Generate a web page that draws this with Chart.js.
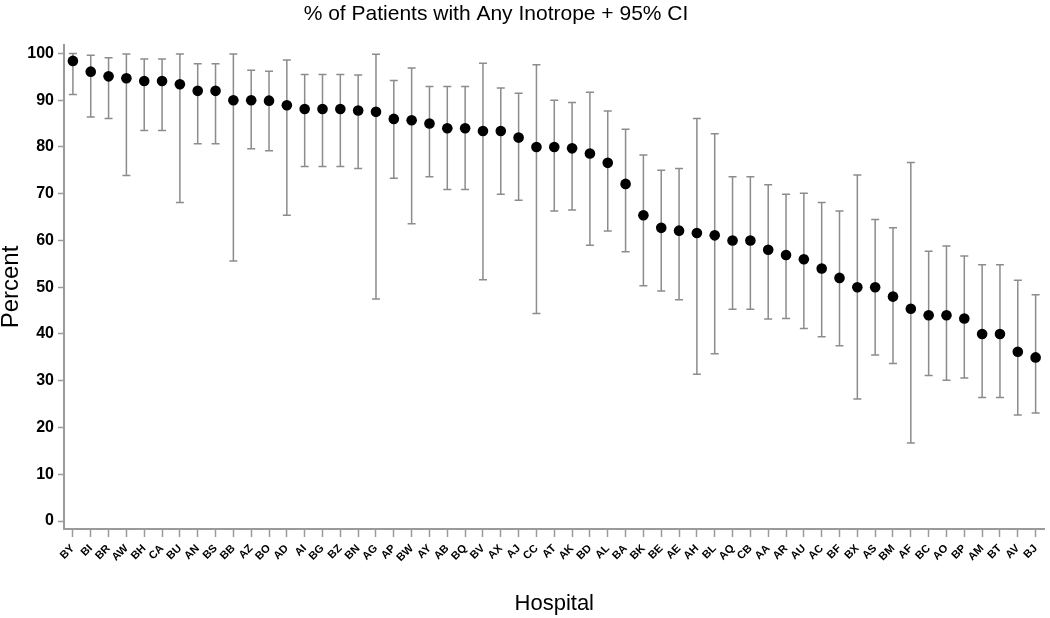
<!DOCTYPE html>
<html>
<head>
<meta charset="utf-8">
<title>% of Patients with Any Inotrope + 95% CI</title>
<script src="https://cdn.jsdelivr.net/npm/chart.js@4"></script>
<style>
  html, body { margin: 0; padding: 0; background: #ffffff; }
  #wrap { width: 1050px; height: 618px; }
</style>
</head>
<body>
<div id="wrap"><canvas id="ciChart" width="1050" height="618"></canvas></div>
<script>
// Hospitals, sorted by percent (as in the figure)
const hospitals = ["BY", "BI", "BR", "AW", "BH", "CA", "BU", "AN", "BS", "BB", "AZ", "BO", "AD", "AI",
  "BG", "BZ", "BN", "AG", "AP", "BW", "AY", "AB", "BQ", "BV", "AX", "AJ", "CC", "AT", "AK", "BD",
  "AL", "BA", "BK", "BE", "AE", "AH", "BL", "AQ", "CB", "AA", "AR", "AU", "AC", "BF", "BX", "AS",
  "BM", "AF", "BC", "AO", "BP", "AM", "BT", "AV", "BJ"];

// Point estimate (%)
const percent = [98.4, 96.1, 95.1, 94.7, 94.1, 94.1, 93.4, 92.0, 92.0, 90.0, 90.0, 89.9, 88.9, 88.1,
  88.1, 88.1, 87.8, 87.5, 86.0, 85.7, 85.0, 84.0, 84.0, 83.4, 83.4, 82.0, 80.0, 80.0, 79.7, 78.6,
  76.6, 72.1, 65.4, 62.7, 62.1, 61.6, 61.1, 60.0, 60.0, 58.0, 56.9, 56.0, 54.0, 52.0, 50.0, 50.0,
  48.0, 45.4, 44.0, 44.0, 43.3, 40.0, 40.0, 36.2, 35.0];

// 95% CI lower bound
const lower = [91.2, 86.4, 86.1, 73.9, 83.5, 83.5, 68.1, 80.7, 80.7, 55.6, 79.6, 79.2, 65.4, 75.8,
  75.8, 75.8, 75.4, 47.5, 73.3, 63.6, 73.6, 70.9, 70.9, 51.6, 69.9, 68.6, 44.4, 66.3, 66.5, 59.0,
  62.0, 57.6, 50.3, 49.2, 47.3, 31.4, 35.8, 45.3, 45.3, 43.2, 43.3, 41.2, 39.4, 37.5, 26.1, 35.5,
  33.7, 16.7, 31.1, 30.1, 30.6, 26.4, 26.4, 22.7, 23.1];

// 95% CI upper bound
const upper = [100, 99.6, 99.1, 99.9, 98.8, 98.8, 99.9, 97.8, 97.8, 99.9, 96.4, 96.2, 98.6, 95.5,
  95.5, 95.5, 95.4, 99.8, 94.2, 96.9, 92.9, 92.9, 92.9, 97.9, 92.6, 91.5, 97.6, 90.0, 89.5, 91.7,
  87.7, 83.8, 78.3, 75.0, 75.4, 86.1, 82.8, 73.6, 73.6, 71.9, 69.9, 70.1, 68.1, 66.3, 74.0, 64.5,
  62.7, 76.7, 57.7, 58.8, 56.7, 54.8, 54.8, 51.5, 48.4];

const yTicks = [0, 10, 20, 30, 40, 50, 60, 70, 80, 90, 100];

const chartTitle = "% of Patients with Any Inotrope + 95% CI";

const fontFamily = "'Liberation Sans', Arial, sans-serif";
const axisGray = "#9a9a9a";
const barGray = "#8c8c8c";

// Draws the CI whiskers with caps behind the points
const errorBars = {
  id: "errorBars",
  beforeDatasetsDraw(chart) {
    const ctx = chart.ctx;
    const x = chart.scales.x;
    const y = chart.scales.y;
    ctx.save();
    ctx.strokeStyle = barGray;
    ctx.lineWidth = 1.5;
    hospitals.forEach((h, i) => {
      const px = x.getPixelForValue(i);
      const yLo = y.getPixelForValue(lower[i]);
      const yHi = y.getPixelForValue(upper[i]);
      ctx.beginPath();
      ctx.moveTo(px, yLo);
      ctx.lineTo(px, yHi);
      ctx.moveTo(px - 4, yLo);
      ctx.lineTo(px + 4, yLo);
      ctx.moveTo(px - 4, yHi);
      ctx.lineTo(px + 4, yHi);
      ctx.stroke();
    });
    ctx.restore();
  },
};

// The figure's title sits a little left of the canvas centre
const topTitle = {
  id: "topTitle",
  afterDraw(chart) {
    const ctx = chart.ctx;
    ctx.save();
    ctx.fillStyle = "#000000";
    ctx.font = "21px " + fontFamily;
    ctx.textAlign = "center";
    ctx.textBaseline = "middle";
    ctx.fillText(chartTitle, 496, 14);
    ctx.restore();
  },
};

const ctx = document.getElementById("ciChart").getContext("2d");

new Chart(ctx, {
  type: "line",
  data: {
    labels: hospitals,
    datasets: [
      {
        label: "Percent",
        data: percent,
        showLine: false,
        pointRadius: 5.3,
        pointHoverRadius: 5.3,
        pointBackgroundColor: "#000000",
        pointBorderColor: "#000000",
        pointBorderWidth: 0,
      },
    ],
  },
  plugins: [errorBars, topTitle],
  options: {
    responsive: false,
    animation: false,
    layout: {
      padding: { left: 0, right: 1, top: 45, bottom: 0 },
    },
    plugins: {
      legend: { display: false },
      tooltip: { enabled: false },
      title: { display: false },
    },
    scales: {
      x: {
        type: "category",
        offset: true,
        afterFit: (scale) => {
          scale.height = 89;
        },
        border: { display: true, color: axisGray, width: 2 },
        grid: {
          drawOnChartArea: false,
          drawTicks: true,
          tickLength: 8,
          color: axisGray,
          tickWidth: 1.5,
        },
        ticks: {
          autoSkip: false,
          minRotation: 45,
          maxRotation: 45,
          padding: 5,
          color: "#000000",
          font: { family: fontFamily, size: 11, weight: "bold" },
        },
        title: {
          display: true,
          text: "Hospital",
          color: "#000000",
          font: { family: fontFamily, size: 22 },
          padding: { top: 0, bottom: 1 },
        },
      },
      y: {
        min: -1.7,
        max: 101.8,
        afterFit: (scale) => {
          scale.width = 64;
        },
        afterBuildTicks: (scale) => {
          scale.ticks = yTicks.map((v) => ({ value: v }));
        },
        border: { display: true, color: axisGray, width: 2 },
        grid: {
          drawOnChartArea: false,
          drawTicks: true,
          tickLength: 6,
          color: axisGray,
          tickWidth: 1.5,
        },
        ticks: {
          padding: 4,
          color: "#000000",
          font: { family: fontFamily, size: 16, weight: "bold" },
        },
        title: {
          display: true,
          text: "Percent",
          color: "#000000",
          font: { family: fontFamily, size: 24 },
          padding: { top: -3, bottom: 0 },
        },
      },
    },
  },
});
</script>
</body>
</html>
